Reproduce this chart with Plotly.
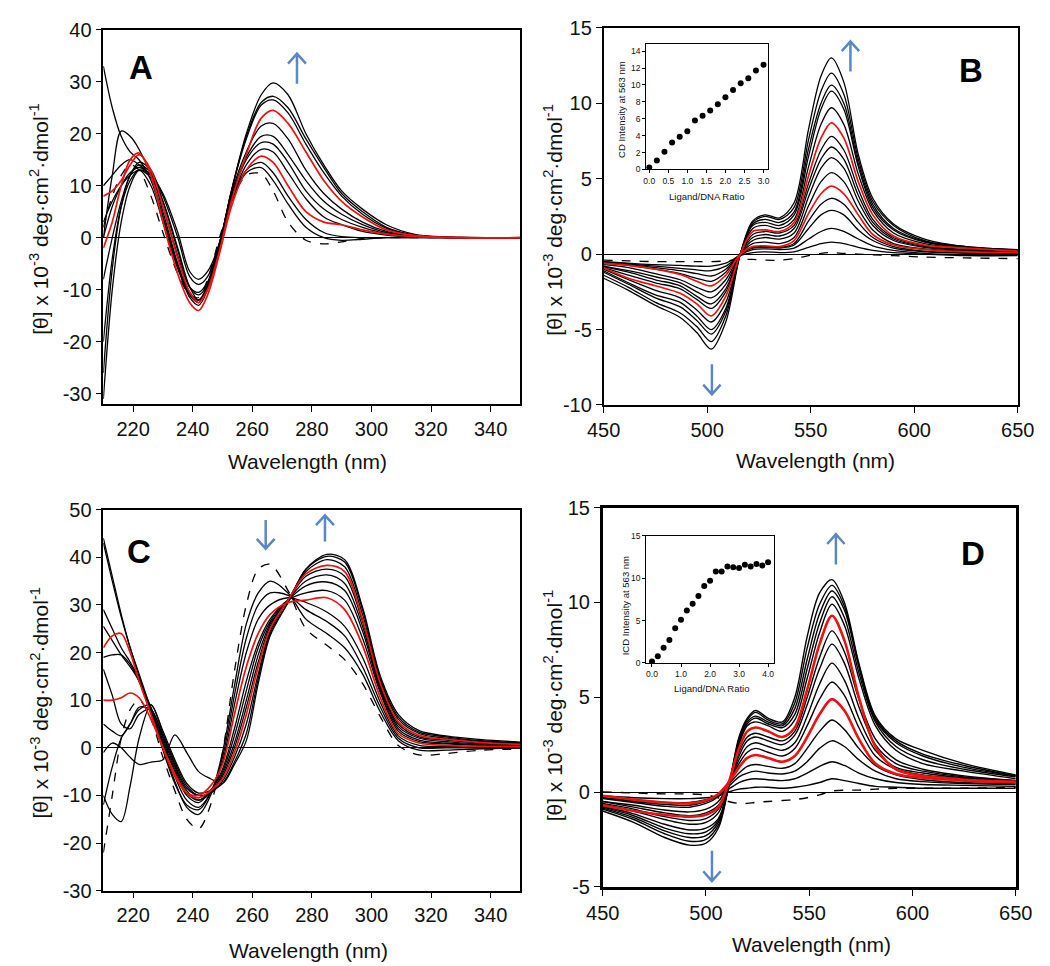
import plotly.graph_objects as go

# ---------------- Panel A (210-350 nm) ----------------
WA = [210, 213, 216, 219, 222, 226, 230, 235, 239, 242, 245, 249, 253, 258, 263, 267, 272, 278, 284, 290, 297, 305, 315, 330, 350]
A0 = [2, 8, 12, 14, 13, 8, 1, -7, -11, -11.5, -8, 0, 7, 12, 12.3, 9, 3, -0.5, -1.2, -0.8, -0.2, 0, 0, 0, 0]
A1 = [-20, -4, 6, 11, 13, 10, 3, -6, -11, -12, -9, -1, 7, 12.5, 13.5, 11, 6.5, 2, 0, -0.5, -0.3, 0, 0, 0, 0]
A2 = [0, 12, 20.5, 19.5, 17, 12, 4, -5.5, -11.5, -13, -10, -2, 7, 13, 14.5, 12.5, 8, 3.5, 1, 0.2, 0, 0, 0, 0, 0]
A3 = [-2, 3, 10, 15, 16.3, 12, 3, -7, -12.5, -14, -11, -3, 6, 13, 15.7, 14.5, 10, 5, 3, 2.5, 1.5, 0.7, 0.2, 0, 0]
A4 = [-31, -10, 3, 10, 13, 12, 5, -5, -10.5, -12, -9.5, -2, 7, 14, 17, 16.5, 12.5, 7.5, 4, 2.5, 1.2, 0.5, 0.1, 0, 0]
A5 = [33, 25, 19.5, 16.5, 15, 11, 4, -5.5, -11, -12.5, -9.5, -2, 7.5, 15, 18.3, 18, 14.5, 9, 5.5, 3.5, 2, 0.8, 0.2, 0, 0]
A6 = [10, 12, 14, 15, 14, 12, 6, -3.5, -9.5, -10.5, -8.5, -1, 8, 15.5, 19.5, 19.5, 16, 11, 7, 4.5, 2.5, 1, 0.3, 0, 0]
A7 = [-26, -6, 6, 12, 14.5, 13, 7, -2.5, -9.5, -11, -9, -1.5, 8.5, 16.5, 21.5, 22, 19, 13, 8.5, 5.5, 3, 1.2, 0.3, 0, 0]
A8 = [8, 9, 11, 14, 16, 13, 6, -4, -10.5, -12.5, -10, -2.5, 7, 16, 23, 24.5, 22, 16.5, 11, 7, 4, 1.5, 0.4, 0, 0]
A9 = [3, 7, 10, 12, 13, 11.5, 7, -2, -9.5, -12, -9.5, -1.5, 9, 19, 25.5, 26.5, 24, 18, 12.5, 8, 4.5, 1.8, 0.4, 0, 0]
A10 = [-8, 0, 7, 12, 14, 12.5, 8, 0, -7.5, -9, -7.5, -1, 9, 19.5, 26, 27.2, 25, 19, 13.5, 8.5, 5, 2, 0.5, 0, 0]
A11 = [0, 6, 10, 12.5, 13.5, 12, 8.5, 1, -6.5, -8, -6.5, -1, 9, 20, 27.5, 29.8, 27.5, 20, 14, 9, 5.5, 2.5, 0.6, 0.1, 0]
A_curves = [A0, A1, A2, A3, A4, A5, A6, A7, A8, A9, A10, A11]
A_red = [3, 8]
A_dash = [0]
A_xticks = [220, 240, 260, 280, 300, 320, 340]
A_yticks = [-30, -20, -10, 0, 10, 20, 30, 40]

# ---------------- Panel B (450-650 nm) ----------------
WB = [450, 462, 475, 487, 495, 502, 509, 516, 522, 528, 535, 542, 549, 555, 560, 566, 573, 580, 590, 605, 625, 650]
B0 = [-0.4, -0.45, -0.5, -0.5, -0.5, -0.5, -0.45, -0.35, -0.35, -0.4, -0.4, -0.3, -0.1, 0.05, 0.1, 0.05, 0.0, -0.05, -0.1, -0.2, -0.25, -0.3]
B1 = [-0.5, -0.6, -0.7, -0.75, -0.8, -0.8, -0.6, -0.1, 0.1, 0.15, 0.1, 0.15, 0.45, 0.7, 0.8, 0.7, 0.45, 0.25, 0.1, 0.0, -0.1, -0.1]
B2 = [-0.5, -0.65, -0.8, -0.95, -1.05, -1.1, -0.8, -0.05, 0.3, 0.35, 0.3, 0.4, 1.0, 1.5, 1.7, 1.5, 1.0, 0.55, 0.25, 0.05, -0.05, -0.05]
B3 = [-0.55, -0.7, -0.9, -1.1, -1.3, -1.45, -1.0, 0, 0.4, 0.45, 0.4, 0.6, 1.7, 2.6, 2.9, 2.6, 1.6, 0.9, 0.4, 0.15, 0.05, 0.0]
B4 = [-0.6, -0.75, -1.0, -1.3, -1.6, -1.8, -1.2, 0, 0.45, 0.5, 0.45, 0.7, 2.2, 3.3, 3.7, 3.3, 2.1, 1.1, 0.5, 0.2, 0.1, 0.05]
B5 = [-0.6, -0.75, -1.0, -1.35, -1.8, -2.1, -1.4, 0, 0.5, 0.55, 0.5, 0.9, 2.7, 4.0, 4.5, 4.0, 2.6, 1.3, 0.6, 0.3, 0.15, 0.1]
B6 = [-0.7, -0.9, -1.3, -1.7, -2.2, -2.5, -1.7, 0, 0.7, 0.8, 0.7, 1.1, 3.2, 4.8, 5.4, 4.8, 3.0, 1.6, 0.7, 0.35, 0.2, 0.1]
B7 = [-0.8, -1.1, -1.5, -1.9, -2.5, -2.9, -2.0, 0, 0.9, 1.1, 1.0, 1.4, 3.8, 5.7, 6.4, 5.7, 3.5, 1.9, 0.9, 0.45, 0.25, 0.15]
B8 = [-0.85, -1.2, -1.7, -2.1, -2.8, -3.3, -2.3, 0, 1.1, 1.3, 1.2, 1.7, 4.3, 6.3, 7.1, 6.3, 3.9, 2.1, 1.0, 0.5, 0.3, 0.15]
B9 = [-0.9, -1.4, -1.9, -2.3, -3.0, -3.6, -2.5, 0, 1.3, 1.5, 1.4, 1.9, 4.7, 6.9, 7.8, 6.9, 4.3, 2.3, 1.1, 0.55, 0.3, 0.2]
B10 = [-0.9, -1.6, -2.1, -2.6, -3.3, -4.1, -2.8, 0, 1.5, 1.6, 1.5, 2.1, 5.2, 7.7, 8.7, 7.7, 4.8, 2.6, 1.2, 0.6, 0.4, 0.2]
B11 = [-1.0, -1.7, -2.4, -2.9, -3.7, -4.5, -3.2, 0, 1.7, 1.9, 1.7, 2.3, 5.8, 8.6, 9.7, 8.6, 5.3, 2.9, 1.4, 0.7, 0.4, 0.2]
B12 = [-1.1, -1.9, -2.7, -3.2, -4.1, -5.0, -3.6, 0, 1.9, 2.1, 1.9, 2.6, 6.5, 9.6, 10.8, 9.6, 5.8, 3.1, 1.6, 0.8, 0.45, 0.25]
B13 = [-1.2, -2.0, -2.9, -3.5, -4.4, -5.3, -3.8, 0, 2.0, 2.3, 2.1, 2.8, 7.0, 10.0, 11.2, 10.0, 6.0, 3.3, 1.7, 0.85, 0.45, 0.25]
B14 = [-1.4, -2.2, -3.2, -3.9, -4.8, -5.8, -4.1, 0, 2.1, 2.5, 2.3, 3.1, 7.6, 10.8, 12.0, 10.6, 6.3, 3.5, 1.9, 0.9, 0.5, 0.3]
B15 = [-1.6, -2.4, -3.4, -4.2, -5.2, -6.3, -4.5, 0, 2.2, 2.6, 2.4, 3.4, 8.3, 11.8, 13.0, 11.4, 6.6, 3.7, 2.0, 1.0, 0.5, 0.3]
B_curves = [B0, B1, B2, B3, B4, B5, B6, B7, B8, B9, B10, B11, B12, B13, B14, B15]
B_red = [5, 10]
B_dash = [0]
B_xticks = [450, 500, 550, 600, 650]
B_yticks = [-10, -5, 0, 5, 10, 15]

# inset B
IB_ratio = [0.0, 0.2, 0.4, 0.6, 0.8, 1.0, 1.2, 1.4, 1.6, 1.8, 2.0, 2.2, 2.4, 2.6, 2.8, 3.0]
IB_cd = [0.23, 1.07, 2.11, 3.18, 3.87, 4.52, 5.79, 6.37, 6.98, 7.71, 8.55, 9.4, 10.2, 10.8, 11.7, 12.4]

# ---------------- Panel C (210-350 nm) ----------------
WC = [210, 213, 216, 219, 222, 226, 230, 234, 238, 242, 246, 250, 254, 258, 262, 266, 272, 278, 285, 291, 297, 303, 309, 316, 325, 337, 350]
C0 = [-22, -10, 2, 8, 10, 6, -2, -9, -15, -17, -12, -1, 16, 30, 37.5, 38.5, 33, 25, 21.5, 18.5, 13.5, 6.5, 0.5, -1.5, -1.2, -0.5, -0.3]
C1 = [44, 36, 28, 21, 15.5, 8, 0, -7, -12.5, -14, -10, -1, 13, 26, 32.5, 35, 32.5, 27, 24, 21, 15.5, 7.5, 1.5, -0.5, -0.5, -0.2, 0]
C2 = [43, 35, 27.5, 21, 15, 7.5, -0.5, -7.5, -12, -13, -9.5, -2, 11, 23, 30, 32.5, 32, 29, 26.5, 23.5, 17, 8.5, 2, 0, 0, 0, 0]
C3 = [29, 25, 21, 18, 14.5, 8, 0.5, -6, -11, -12.5, -9.5, -3, 9, 20, 27, 30, 31.5, 30.5, 28.5, 25.5, 19, 9.5, 2.5, 0.5, 0.3, 0.2, 0]
C4 = [21, 23.5, 24, 20, 14, 7, 0, -6, -9.5, -10, -8, -3.5, 7, 17, 24, 28, 30.5, 31, 31.5, 29, 21.5, 10.5, 3, 1, 0.5, 0.3, 0.2]
C5 = [25.5, 22.5, 19.5, 17, 14, 8, 1, -5, -10, -11.5, -9, -4.5, 4, 14, 22, 27, 31, 32.5, 33, 31, 23, 11.5, 3.5, 1.3, 0.8, 0.5, 0.3]
C6 = [19, 19.5, 19.5, 17.5, 14, 8.5, 1.5, -4.5, -9.5, -11, -9, -5, 2.5, 12, 21, 26.5, 31, 34, 34.8, 33, 24.5, 12, 4, 1.6, 1, 0.6, 0.4]
C7 = [16.5, 11, 5, 4, 7, 8, 2, -4, -9, -11, -9.5, -5.5, 1, 10, 19.5, 26, 31, 35, 36.3, 34.5, 25.5, 12.5, 4.5, 2, 1.3, 0.8, 0.5]
C8 = [5, 3.5, 2.5, 5, 8.5, 8, 2.5, -3.5, -8.5, -10, -9.5, -6, 0, 8.5, 18, 25.5, 31, 36, 37.5, 36, 26.5, 13, 5, 2.3, 1.6, 1, 0.6]
C9 = [10, 10, 10.5, 11.5, 10.5, 6, 0, -5.5, -9.5, -10.5, -9, -6.5, -1, 7, 17, 25, 31, 36.5, 38.3, 37, 27, 13.5, 5.5, 2.6, 1.8, 1.1, 0.7]
C10 = [-12, -4, 2, 5, 8, 9, 3, -3, -8, -10, -9.5, -7, -2, 5, 15.5, 24.5, 31, 37, 39.5, 38, 28, 14, 6, 3, 2, 1.3, 0.9]
C11 = [-10, -14, -15.5, -8, 2, 9, 3.5, -2.5, -7.5, -9.5, -9, -7.5, -3, 3, 14.5, 24, 30.5, 37.5, 40.2, 39, 29, 14.5, 6.5, 3.3, 2.3, 1.5, 1]
C12 = [-1, 1, 0, -2, -3.5, -3, -2.5, 2.7, -1, -5, -6.5, -7.5, -3.5, 1.5, 13.5, 23.5, 30.5, 37.5, 40.6, 39.5, 29.5, 15, 7, 3.6, 2.5, 1.7, 1.2]
C_curves = [C0, C1, C2, C3, C4, C5, C6, C7, C8, C9, C10, C11, C12]
C_red = [4, 9]
C_dash = [0]
C_xticks = [220, 240, 260, 280, 300, 320, 340]
C_yticks = [-30, -20, -10, 0, 10, 20, 30, 40, 50]

# ---------------- Panel D (450-650 nm) ----------------
WD = [450, 465, 480, 492, 500, 506, 511, 516, 520, 524, 530, 537, 543, 549, 555, 561, 567, 574, 582, 592, 605, 625, 650]
D0 = [0, -0.05, -0.1, -0.1, -0.15, -0.3, -0.5, -0.6, -0.6, -0.55, -0.5, -0.45, -0.4, -0.3, -0.15, 0.05, 0.1, 0.1, 0.15, 0.2, 0.2, 0.2, 0.25]
D1 = [-0.2, -0.3, -0.35, -0.35, -0.3, -0.2, 0.0, 0.15, 0.2, 0.25, 0.25, 0.2, 0.25, 0.35, 0.5, 0.7, 0.6, 0.45, 0.3, 0.25, 0.2, 0.2, 0.2]
D2 = [-0.3, -0.45, -0.55, -0.55, -0.4, -0.2, 0.15, 0.5, 0.65, 0.7, 0.65, 0.6, 0.7, 1.0, 1.35, 1.6, 1.4, 1.0, 0.7, 0.5, 0.4, 0.35, 0.3]
D3 = [-0.3, -0.5, -0.65, -0.7, -0.5, -0.2, 0.3, 0.8, 1.0, 1.1, 1.0, 0.95, 1.1, 1.6, 2.3, 2.7, 2.4, 1.7, 1.1, 0.7, 0.55, 0.45, 0.4]
D4 = [-0.35, -0.55, -0.75, -0.8, -0.6, -0.25, 0.4, 1.0, 1.35, 1.45, 1.35, 1.25, 1.5, 2.3, 3.2, 3.8, 3.3, 2.3, 1.4, 0.9, 0.65, 0.5, 0.45]
D5 = [-0.2, -0.4, -0.55, -0.6, -0.45, -0.1, 0.5, 1.3, 1.8, 1.95, 1.8, 1.6, 1.9, 2.9, 4.1, 4.9, 4.3, 2.8, 1.5, 0.95, 0.75, 0.6, 0.5]
D6 = [-0.5, -0.7, -0.95, -1.05, -0.9, -0.5, 0.4, 1.5, 2.1, 2.3, 2.1, 1.9, 2.3, 3.5, 4.9, 5.8, 5.1, 3.4, 1.9, 1.2, 0.9, 0.7, 0.55]
D7 = [-0.5, -0.8, -1.1, -1.25, -1.1, -0.7, 0.4, 1.7, 2.4, 2.6, 2.4, 2.2, 2.6, 4.0, 5.7, 6.8, 5.9, 3.9, 2.2, 1.3, 1.0, 0.75, 0.6]
D8 = [-0.6, -0.9, -1.3, -1.5, -1.4, -0.9, 0.4, 1.9, 2.7, 2.9, 2.7, 2.5, 3.0, 4.6, 6.5, 7.8, 6.8, 4.5, 2.5, 1.5, 1.1, 0.8, 0.6]
D9 = [-0.65, -1.0, -1.45, -1.7, -1.6, -1.1, 0.35, 2.1, 2.9, 3.1, 2.9, 2.7, 3.2, 5.0, 7.1, 8.5, 7.4, 4.9, 2.8, 1.7, 1.2, 0.85, 0.6]
D10 = [-0.7, -1.0, -1.2, -1.3, -1.2, -0.8, 0.5, 2.3, 3.2, 3.4, 3.2, 2.9, 3.4, 5.4, 7.8, 9.3, 8.0, 5.0, 2.4, 1.2, 0.85, 0.65, 0.55]
D11 = [-0.75, -1.15, -1.7, -2.0, -1.9, -1.4, 0.3, 2.5, 3.5, 3.7, 3.5, 3.2, 3.8, 6.0, 8.4, 9.9, 8.8, 6.0, 3.5, 2.2, 1.5, 1.1, 0.7]
D12 = [-0.8, -1.25, -1.9, -2.2, -2.1, -1.5, 0.3, 2.6, 3.6, 3.9, 3.6, 3.4, 4.1, 6.5, 8.9, 10.3, 9.2, 6.3, 3.7, 2.4, 1.7, 1.2, 0.8]
D13 = [-0.85, -1.35, -2.05, -2.4, -2.3, -1.6, 0.3, 2.7, 3.7, 4.0, 3.7, 3.5, 4.4, 7.0, 9.4, 10.6, 9.6, 6.6, 3.8, 2.6, 1.9, 1.3, 0.85]
D14 = [-0.9, -1.45, -2.2, -2.6, -2.5, -1.75, 0.3, 2.8, 3.8, 4.2, 3.8, 3.6, 4.7, 7.6, 9.9, 10.9, 9.8, 6.7, 3.9, 2.7, 2.0, 1.4, 0.85]
D15 = [-1.0, -1.6, -2.4, -2.8, -2.7, -1.9, 0.3, 2.9, 3.9, 4.3, 3.9, 3.7, 5.0, 8.2, 10.5, 11.2, 10.0, 6.8, 4.0, 2.8, 2.2, 1.5, 0.9]
D_curves = [D0, D1, D2, D3, D4, D5, D6, D7, D8, D9, D10, D11, D12, D13, D14, D15]
D_red = [5, 10]
D_dash = [0]
D_xticks = [450, 500, 550, 600, 650]
D_yticks = [-5, 0, 5, 10, 15]

# inset D
ID_ratio = [0.0, 0.2, 0.4, 0.6, 0.8, 1.0, 1.2, 1.4, 1.6, 1.8, 2.0, 2.2, 2.4, 2.6, 2.8, 3.0, 3.2, 3.4, 3.6, 3.8, 4.0]
ID_cd = [0.19, 0.81, 1.8, 2.72, 4.1, 5.1, 6.2, 6.98, 7.9, 9.1, 9.7, 10.8, 10.8, 11.4, 11.3, 11.2, 11.6, 11.4, 11.7, 11.5, 11.9]

IB_xticks = [0.0, 0.5, 1.0, 1.5, 2.0, 2.5, 3.0]
IB_yticks = [0, 2, 4, 6, 8, 10, 12, 14]
ID_xticks = [0.0, 1.0, 2.0, 3.0, 4.0]
ID_yticks = [0, 5, 10, 15]

FONT = "Liberation Sans, Arial, sans-serif"
TXT = "#111111"
RED = "#ee1111"
BLUE = "#5b88c4"

fig = go.Figure()


def add_panel(wl, curves, reds, dashes, xa, ya, red_w=1.7, blk_w=1.3):
    for i, c in enumerate(curves):
        if i in reds:
            continue
        fig.add_trace(go.Scatter(
            x=wl, y=c, mode="lines", xaxis=xa, yaxis=ya,
            line=dict(color="black", width=blk_w, shape="spline", smoothing=0.9,
                      dash="dash" if i in dashes else "solid"),
            showlegend=False, hoverinfo="skip"))
    for i in reds:
        fig.add_trace(go.Scatter(
            x=wl, y=curves[i], mode="lines", xaxis=xa, yaxis=ya,
            line=dict(color=RED, width=red_w, shape="spline", smoothing=0.9),
            showlegend=False, hoverinfo="skip"))


add_panel(WA, A_curves, A_red, A_dash, "x", "y")
add_panel(WB, B_curves, B_red, B_dash, "x2", "y2")
add_panel(WC, C_curves, C_red, C_dash, "x3", "y3")
add_panel(WD, D_curves, D_red, D_dash, "x4", "y4", red_w=2.6, blk_w=1.4)

fig.add_trace(go.Scatter(x=IB_ratio, y=IB_cd, mode="markers", xaxis="x5", yaxis="y5",
                         marker=dict(color="black", size=6, symbol="circle"),
                         showlegend=False, hoverinfo="skip"))
fig.add_trace(go.Scatter(x=ID_ratio, y=ID_cd, mode="markers", xaxis="x6", yaxis="y6",
                         marker=dict(color="black", size=6, symbol="circle"),
                         showlegend=False, hoverinfo="skip"))


def lab(v, fmt):
    return (fmt % v).replace("\u2212", "-")


def main_axis(domain, rng, ticks, anchor, lw=1.5, zero=False):
    return dict(domain=domain, range=rng, tickmode="array", tickvals=ticks,
                ticktext=[lab(t, "%g") for t in ticks], anchor=anchor,
                showgrid=False, zeroline=zero, zerolinecolor="black", zerolinewidth=1.2,
                showline=True, linecolor="black", linewidth=lw, mirror=True,
                ticks="outside", ticklen=6, tickwidth=1, tickcolor="black",
                tickfont=dict(family=FONT, size=20, color=TXT))


def inset_axis(domain, rng, ticks, anchor, fmt="%g"):
    return dict(domain=domain, range=rng, tickmode="array", tickvals=ticks,
                ticktext=[lab(t, fmt) for t in ticks], anchor=anchor,
                showgrid=False, zeroline=False, showline=True, linecolor="black",
                linewidth=1, mirror=True, ticks="outside", ticklen=3, tickwidth=1,
                tickcolor="black", tickfont=dict(family=FONT, size=8.5, color=TXT))


fig.update_layout(
    width=1050, height=966, margin=dict(l=0, r=0, t=0, b=0),
    paper_bgcolor="white", plot_bgcolor="rgba(0,0,0,0)",
    xaxis=main_axis([0.0771, 0.4876], [210, 350], A_xticks, "y"),
    yaxis=main_axis([0.5921, 0.9886], [-32, 40], A_yticks, "x", zero=True),
    xaxis2=main_axis([0.5695, 0.9771], [450, 650], B_xticks, "y2"),
    yaxis2=main_axis([0.5911, 0.9907], [-10, 15], B_yticks, "x2", zero=True),
    xaxis3=main_axis([0.0771, 0.4876], [210, 350], C_xticks, "y3"),
    yaxis3=main_axis([0.0766, 0.4803], [-30, 50], C_yticks, "x3", zero=True),
    xaxis4=main_axis([0.5686, 0.9752], [450, 650], D_xticks, "y4", lw=2.5),
    yaxis4=main_axis([0.0807, 0.4824], [-5, 15], D_yticks, "x4", lw=2.5, zero=True),
    xaxis5=inset_axis([0.6114, 0.7314], [-0.08, 3.12], IB_xticks, "y5", "%.1f"),
    yaxis5=inset_axis([0.8406, 0.9731], [0, 14.8], IB_yticks, "x5"),
    xaxis6=inset_axis([0.6114, 0.7371], [-0.2, 4.2], ID_xticks, "y6", "%.1f"),
    yaxis6=inset_axis([0.3178, 0.4524], [0, 15], ID_yticks, "x6"),
)

YT = "[θ] x 10<sup>-3</sup> deg·cm<sup>2</sup>·dmol<sup>-1</sup>"
ann = []
for (x, y) in [(0.0143, 0.7878), (0.520, 0.7878), (0.0143, 0.2754), (0.520, 0.2733)]:
    ann.append(dict(x=x, y=y, xref="paper", yref="paper", text=YT, showarrow=False,
                    textangle=-90, font=dict(family=FONT, size=21, color=TXT),
                    xanchor="center", yanchor="middle"))
for (x, y) in [(0.278, 0.531), (0.778, 0.532), (0.279, 0.0135), (0.7743, 0.0197)]:
    ann.append(dict(x=x, y=y, xref="paper", yref="paper", text="Wavelength (nm)",
                    showarrow=False, font=dict(family=FONT, size=21, color=TXT),
                    xanchor="center", yanchor="middle"))
for (t, x, y) in [("A", 0.1143, 0.9482), ("B", 0.9314, 0.9451), ("C", 0.1124, 0.4358), ("D", 0.9333, 0.4337)]:
    ann.append(dict(x=x, y=y, xref="paper", yref="paper", text="<b>%s</b>" % t,
                    showarrow=False, font=dict(family=FONT, size=33, color="black"),
                    xanchor="center", yanchor="middle"))
# inset titles
for (x, y, t, ang) in [(0.5876, 0.9037, "CD Intensity at 563 nm", -90),
                       (0.6714, 0.8116, "Ligand/DNA Ratio", 0),
                       (0.5905, 0.3789, "ICD Intensity at 563 nm", -90),
                       (0.6762, 0.2909, "Ligand/DNA Ratio", 0)]:
    ann.append(dict(x=x, y=y, xref="paper", yref="paper", text=t, showarrow=False,
                    textangle=ang, font=dict(family=FONT, size=9.5, color=TXT),
                    xanchor="center", yanchor="middle"))
fig.update_layout(annotations=ann)

# blue arrows (x, tail, tip, wing dx, wing dy)
arrows = [("x", "y", 275, 29.6, 35.4, 3.0, 1.9),
          ("x2", "y2", 569.2, 12.1, 14.1, 4.2, 0.65),
          ("x2", "y2", 502.3, -7.3, -9.3, 4.2, 0.65),
          ("x3", "y3", 264.5, 47.8, 41.8, 3.0, 2.05),
          ("x3", "y3", 284.4, 43.3, 48.8, 3.0, 2.05),
          ("x4", "y4", 562.9, 12.0, 13.6, 4.2, 0.52),
          ("x4", "y4", 502.9, -3.1, -4.7, 4.2, 0.52)]
shapes = []
for xr, yr, x, yt, yp, dx, dy in arrows:
    s = 1 if yp > yt else -1
    path = "M %g,%g L %g,%g M %g,%g L %g,%g L %g,%g" % (
        x, yt, x, yp, x - dx, yp - s * dy, x, yp, x + dx, yp - s * dy)
    shapes.append(dict(type="path", xref=xr, yref=yr, path=path,
                       line=dict(color=BLUE, width=2.5)))
fig.update_layout(shapes=shapes)

fig.write_html("out.html")
